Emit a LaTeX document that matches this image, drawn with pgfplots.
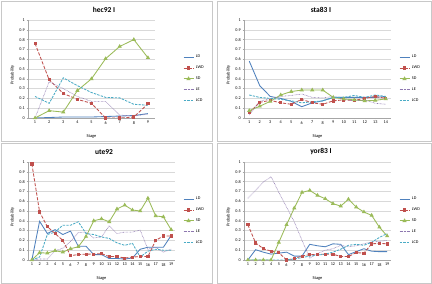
\documentclass[border=0pt]{standalone}
\usepackage{fontspec}
\setmainfont{Carlito}
\usepackage{pgfplots}
\usepackage{pgfplotstable}
\pgfplotsset{compat=1.18}

\definecolor{cLD}{HTML}{4F81BD}
\definecolor{cLWD}{HTML}{C0504D}
\definecolor{cSD}{HTML}{9BBB59}
\definecolor{cLE}{HTML}{8E78B0}
\definecolor{cLCD}{HTML}{4BACC6}
\definecolor{gridc}{HTML}{D9D9D9}
\definecolor{axc}{HTML}{A6A6A6}
\definecolor{framec}{HTML}{C8C8C8}

% stage, LD, LWD, SD, LE, LCD
\pgfplotstableread{
s LD LWD SD LE LCD
1 0.000 0.760 0.000 0.000 0.220
2 0.005 0.390 0.075 0.370 0.150
3 0.010 0.250 0.060 0.300 0.410
4 0.010 0.190 0.280 0.220 0.330
5 0.010 0.150 0.400 0.170 0.260
6 0.015 0.000 0.605 0.170 0.210
7 0.020 0.000 0.730 0.030 0.205
8 0.025 0.010 0.800 0.020 0.140
9 0.045 0.145 0.615 0.040 0.130
}\hec

\pgfplotstableread{
s LD LWD SD LE LCD
1  0.580 0.055 0.075 0.030 0.235
2  0.330 0.160 0.120 0.170 0.210
3  0.220 0.180 0.170 0.200 0.200
4  0.200 0.155 0.235 0.220 0.190
5  0.170 0.140 0.270 0.230 0.175
6  0.115 0.190 0.285 0.245 0.155
7  0.155 0.155 0.285 0.210 0.165
8  0.175 0.140 0.285 0.205 0.175
9  0.210 0.175 0.210 0.220 0.210
10 0.210 0.185 0.195 0.190 0.210
11 0.210 0.180 0.185 0.175 0.230
12 0.210 0.200 0.175 0.185 0.210
13 0.210 0.220 0.180 0.150 0.235
14 0.220 0.200 0.195 0.140 0.220
}\sta

\pgfplotstableread{
s LD LWD SD LE LCD
1  0.000 0.980 0.000 0.000 0.000
2  0.395 0.490 0.075 0.010 0.030
3  0.270 0.340 0.070 0.010 0.260
4  0.310 0.270 0.095 0.095 0.285
5  0.260 0.200 0.080 0.120 0.355
6  0.295 0.045 0.115 0.190 0.355
7  0.140 0.055 0.135 0.280 0.390
8  0.140 0.060 0.240 0.285 0.270
9  0.055 0.060 0.400 0.225 0.260
10 0.055 0.065 0.420 0.235 0.235
11 0.015 0.035 0.390 0.350 0.220
12 0.015 0.035 0.520 0.270 0.175
13 0.010 0.020 0.560 0.285 0.150
14 0.020 0.030 0.510 0.285 0.170
15 0.110 0.035 0.500 0.305 0.030
16 0.130 0.035 0.630 0.110 0.090
17 0.130 0.200 0.450 0.130 0.110
18 0.130 0.245 0.440 0.080 0.100
19 0.250 0.245 0.310 0.110 0.100
}\ute

\pgfplotstableread{
s LD LWD SD LE LCD
1  0.000 0.360 0.000 0.630 0.000
2  0.105 0.175 0.000 0.710 0.000
3  0.080 0.115 0.000 0.795 0.000
4  0.060 0.090 0.000 0.850 0.000
5  0.070 0.075 0.180 0.690 0.000
6  0.080 0.000 0.360 0.540 0.000
7  0.040 0.015 0.530 0.390 0.010
8  0.040 0.040 0.690 0.200 0.025
9  0.160 0.055 0.710 0.020 0.040
10 0.145 0.055 0.660 0.065 0.050
11 0.135 0.060 0.625 0.100 0.060
12 0.165 0.060 0.575 0.115 0.080
13 0.160 0.035 0.550 0.150 0.110
14 0.055 0.035 0.620 0.135 0.150
15 0.085 0.075 0.540 0.145 0.160
16 0.115 0.070 0.490 0.165 0.150
17 0.090 0.165 0.455 0.185 0.180
18 0.085 0.170 0.335 0.190 0.230
19 0.085 0.165 0.245 0.200 0.270
}\yor

\pgfplotsset{
  panel/.style={
    scale only axis,
    height=98pt,
    ymin=0, ymax=1,
    ytick={0,0.1,...,1.01},
    xmin=0.5,
    axis x line*=bottom,
    axis y line*=left,
    axis line style={axc, line width=0.4pt},
    ymajorgrids,
    grid style={gridc, line width=0.4pt},
    tick style={axc, line width=0.3pt},
    major tick length=1.5pt,
    tick align=outside,
    xtick=data,
    /pgf/number format/assume math mode=true,
    yticklabel style={/pgf/number format/fixed, /pgf/number format/precision=1, font=\fontsize{4.2}{5}\selectfont, inner sep=1.5pt},
    xticklabel style={font=\fontsize{4.2}{5}\selectfont, inner sep=1.5pt},
    xlabel={Stage},
    ylabel={Probability},
    label style={font=\fontsize{4.4}{5}\selectfont},
    xlabel style={at={(ticklabel cs:0.5)}, anchor=north, yshift=-6pt},
    ylabel style={at={(ticklabel cs:0.5)}, anchor=south, xshift=-6pt},
    legend style={draw=none, fill=none, anchor=west,
      font=\fontsize{4.2}{5}\selectfont, row sep=2.6pt, inner sep=0pt},
    legend cell align=left,
    legend image code/.code={\draw[mark repeat=2, mark phase=2, #1] plot coordinates {(0pt,0pt) (5pt,0pt) (10pt,0pt)};},
    every axis plot/.append style={line width=0.85pt},
    cycle list={
      {cLD, no markers},
      {cLWD, dash pattern=on 3.2pt off 1.6pt, mark=square*, mark size=1.1pt, mark options={solid, fill=cLWD}},
      {cSD, mark=triangle*, mark size=1.6pt, mark options={solid, fill=cSD}},
      {cLE, line width=0.6pt, dash pattern=on 0.6pt off 0.8pt, no markers},
      {cLCD, dash pattern=on 2.4pt off 1.2pt, no markers}
    },
  }
}

\newcommand{\series}[1]{%
  \addplot table[x=s, y=LD]{#1};
  \addplot table[x=s, y=LWD]{#1};
  \addplot table[x=s, y=SD]{#1};
  \addplot table[x=s, y=LE]{#1};
  \addplot table[x=s, y=LCD]{#1};
  \legend{LD, LWD, SD, LE, LCD}
}

\begin{document}
\begin{tikzpicture}
  \useasboundingbox (0pt,0pt) rectangle (432pt,284pt);
  \fill[white] (0pt,0pt) rectangle (432pt,284pt);
  % chart frames
  \draw[framec, line width=0.5pt] (1pt,143pt) rectangle (212pt,283pt);
  \draw[framec, line width=0.5pt] (217pt,143pt) rectangle (431pt,283pt);
  \draw[framec, line width=0.5pt] (1pt,1pt) rectangle (212pt,141pt);
  \draw[framec, line width=0.5pt] (217pt,1pt) rectangle (431pt,141pt);

  % chart titles
  \node[font=\fontsize{7.5}{8}\selectfont\bfseries] at (104pt,274pt) {hec92 I};
  \node[font=\fontsize{7.5}{8}\selectfont\bfseries] at (321pt,274pt) {sta83 I};
  \node[font=\fontsize{7.5}{8}\selectfont\bfseries] at (104pt,132pt) {ute92};
  \node[font=\fontsize{7.5}{8}\selectfont\bfseries] at (321pt,132pt) {yor83 I};

  \begin{axis}[panel, at={(28pt,166pt)}, anchor=south west, width=127pt, xmax=9.5,
      legend style={at={(1.22,0.40)}}]
    \series{\hec}
  \end{axis}

  \begin{axis}[panel, at={(244pt,166pt)}, anchor=south west, width=147pt, xmax=14.5,
      legend style={at={(1.054,0.40)}}]
    \series{\sta}
  \end{axis}

  \begin{axis}[panel, at={(28pt,24pt)}, anchor=south west, width=147pt, xmax=19.5,
      legend style={at={(1.054,0.40)}}]
    \series{\ute}
  \end{axis}

  \begin{axis}[panel, at={(244pt,24pt)}, anchor=south west, width=147pt, xmax=19.5,
      legend style={at={(1.054,0.40)}}]
    \series{\yor}
  \end{axis}
\end{tikzpicture}
\end{document}
